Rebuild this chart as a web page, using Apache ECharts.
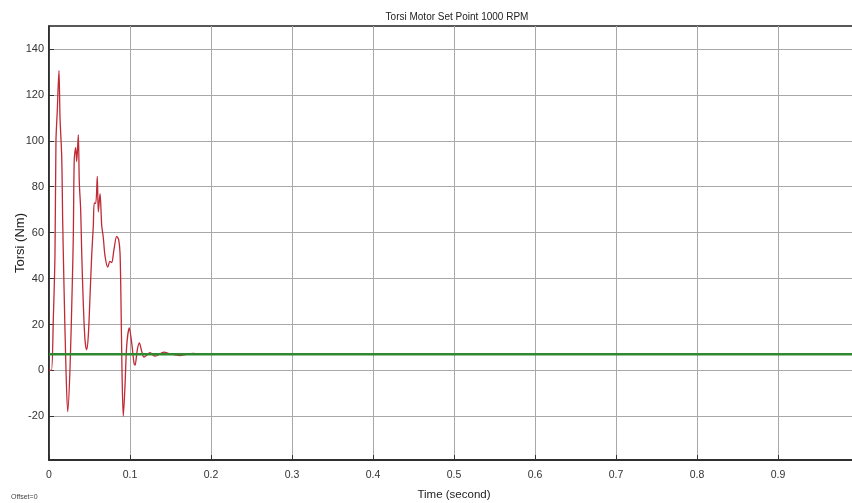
<!DOCTYPE html>
<html>
<head>
<meta charset="utf-8">
<script src="https://cdn.jsdelivr.net/npm/echarts@6/dist/echarts.min.js"></script>
<style>html,body{margin:0;padding:0;background:#fff}#c{width:852px;height:503px}</style>
</head>
<body>
<div id="c"></div>
<script>
var titleText = 'Torsi Motor Set Point 1000 RPM';
var xName = 'Time (second)';
var yName = 'Torsi (Nm)';
var yTicks = [-20, 0, 20, 40, 60, 80, 100, 120, 140];
var timeData = [0, 0.003, 0.0053, 0.0074, 0.0086, 0.0102, 0.0123, 0.0136, 0.0157, 0.0169, 0.0185, 0.021, 0.0231, 0.0259, 0.0287, 0.0300, 0.0312, 0.0330, 0.0342, 0.0362, 0.0374, 0.0391, 0.0404, 0.0423, 0.0444, 0.0465, 0.0485, 0.0506, 0.0527, 0.0547, 0.0559, 0.0577, 0.0596, 0.0609, 0.0630, 0.0651, 0.0670, 0.0691, 0.0725, 0.0753, 0.0774, 0.0802, 0.0836, 0.0860, 0.0877, 0.0889, 0.0901, 0.0917, 0.0938, 0.0959, 0.0991, 0.1021, 0.1049, 0.1062, 0.1090, 0.1115, 0.1144, 0.1173, 0.1247, 0.1309, 0.1420, 0.1494, 0.1617, 0.1781, 0.1901, 0.25, 1.0];
var torqueData = [0, 0, 22, 51, 100, 113, 130.6, 110, 93, 65, 37, 0, -18, 0.4, 37, 58, 92, 97, 91, 102.6, 82, 70, 51, 29.5, 13.5, 9, 15, 32, 50, 63, 73, 72.8, 84.5, 69, 77, 63, 58, 50, 45, 47.5, 47, 52.6, 58.4, 57, 51, 29.5, 0.4, -20, -7, 10.6, 18.5, 12, 3.3, 2.3, 9, 12, 8.4, 5.8, 7.7, 6.2, 8, 7.2, 6.5, 7.4, 7, 7, 7];
var refTime = [0, 1.0];
var refData = [7, 7];

var torque = timeData.map(function (t, i) { return [t, torqueData[i]]; });
var ref = refTime.map(function (t, i) { return [t, refData[i]]; });

var chart = echarts.init(document.getElementById('c'));
chart.setOption({
  backgroundColor: '#fff',
  animation: false,
  title: {
    text: titleText, left: 452, top: 7, textAlign: 'center',
    textStyle: { fontFamily: 'Liberation Sans, Arial', fontSize: 10, fontWeight: 'normal', color: '#222' }
  },
  grid: { left: 49, top: 26, bottom: 43, right: -7, outerBoundsMode: 'none', containLabel: false, show: true, borderColor: '#222', borderWidth: 1.5 },
  xAxis: {
    type: 'value', min: 0, max: 1, interval: 0.1,
    name: xName, nameLocation: 'middle', nameGap: 29, nameMoveOverlap: false,
    nameTextStyle: { fontFamily: 'Liberation Sans, Arial', fontSize: 11.5, color: '#222' },
    axisLine: { show: true, onZero: false, lineStyle: { color: '#222', width: 1.5 } },
    axisTick: { show: true, inside: true, length: 5, lineStyle: { color: '#333' } },
    axisLabel: { margin: 10, fontFamily: 'Liberation Sans, Arial', fontSize: 10.5, color: '#333', showMaxLabel: false,
      formatter: function (v) { return String(Math.round(v * 10) / 10); } },
    splitLine: { show: true, lineStyle: { color: '#a8a8a8', width: 1 } }
  },
  yAxis: {
    type: 'value', min: -39, max: 150,
    name: yName, nameLocation: 'middle', nameGap: 22, nameMoveOverlap: false,
    nameTextStyle: { fontFamily: 'Liberation Sans, Arial', fontSize: 13, color: '#222' },
    axisLine: { show: true, onZero: false, lineStyle: { color: '#222', width: 1.5 } },
    axisTick: { show: true, inside: true, length: 5, lineStyle: { color: '#333' }, customValues: yTicks },
    axisLabel: { margin: 5, fontFamily: 'Liberation Sans, Arial', fontSize: 11, color: '#333', customValues: yTicks },
    splitLine: { show: true, lineStyle: { color: '#a8a8a8', width: 1 } }
  },
  graphic: [{
    type: 'text', left: 11, top: 494,
    style: { text: 'Offset=0', fontSize: 7, fontFamily: 'Liberation Sans, Arial', fill: '#444' }
  }],
  series: [{
    type: 'line', data: torque, showSymbol: false, smooth: 0.3, z: 2,
    lineStyle: { color: '#bf2a35', width: 1.3 }
  }, {
    type: 'line', data: ref, showSymbol: false, z: 3,
    lineStyle: { color: '#2f8a2f', width: 2.5 }
  }]
});
</script>
</body>
</html>
